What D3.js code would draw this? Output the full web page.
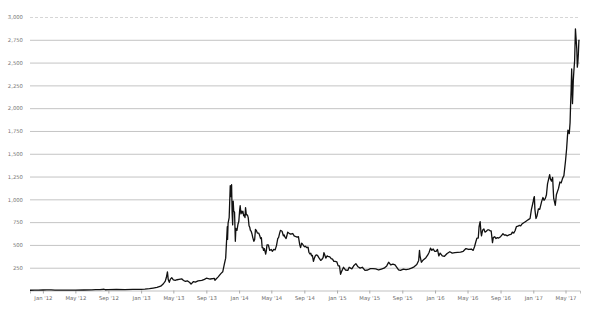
<!DOCTYPE html>
<html>
<head>
<meta charset="utf-8">
<script src="https://cdn.jsdelivr.net/npm/d3@7"></script>
<style>
  body { margin: 0; background: #fff; }
  svg { display: block; }
  .tick text { font-family: "DejaVu Sans", sans-serif; font-size: 5.3px; }
</style>
</head>
<body>
<div id="chart"></div>
<script>
// price readings, [date, USD] per period
var prices2012 = [
  ["2011-11-14", 2.9], ["2011-12-01", 3.1], ["2011-12-15", 3.2], ["2012-01-01", 5.3],
  ["2012-01-15", 6.8], ["2012-02-01", 6.1], ["2012-02-15", 4.4], ["2012-03-01", 4.9],
  ["2012-04-01", 4.9], ["2012-05-01", 5.0], ["2012-06-01", 5.3], ["2012-07-01", 6.7],
  ["2012-07-15", 8.8], ["2012-08-01", 9.4], ["2012-08-16", 13.5], ["2012-08-20", 8.0],
  ["2012-09-01", 10.1], ["2012-10-01", 12.4], ["2012-11-01", 10.6], ["2012-12-01", 12.6]
];
var prices2013 = [
  ["2013-01-01", 13.3], ["2013-01-15", 14.2], ["2013-02-01", 20.4], ["2013-02-15", 27],
  ["2013-03-01", 34.5], ["2013-03-15", 47], ["2013-03-25", 74], ["2013-04-01", 104],
  ["2013-04-05", 142], ["2013-04-09", 205], ["2013-04-12", 120], ["2013-04-16", 90],
  ["2013-04-20", 125], ["2013-04-25", 140], ["2013-05-01", 116], ["2013-05-08", 112],
  ["2013-05-15", 118], ["2013-05-22", 122], ["2013-06-01", 128], ["2013-06-08", 110],
  ["2013-06-15", 100], ["2013-06-22", 106], ["2013-07-01", 88], ["2013-07-06", 70],
  ["2013-07-15", 98], ["2013-07-22", 92], ["2013-08-01", 105], ["2013-08-15", 110],
  ["2013-08-25", 122], ["2013-09-01", 135], ["2013-09-15", 126], ["2013-10-01", 132],
  ["2013-10-03", 112], ["2013-10-15", 150], ["2013-10-25", 185], ["2013-11-01", 205],
  ["2013-11-07", 290], ["2013-11-12", 355], ["2013-11-18", 700], ["2013-11-19", 560],
  ["2013-11-21", 740], ["2013-11-25", 800], ["2013-11-29", 1150], ["2013-12-02", 1030],
  ["2013-12-04", 1160], ["2013-12-06", 850], ["2013-12-08", 720], ["2013-12-10", 980],
  ["2013-12-12", 870], ["2013-12-15", 860], ["2013-12-18", 540], ["2013-12-20", 680],
  ["2013-12-24", 660], ["2013-12-28", 730], ["2013-12-31", 760]
];
var prices2014 = [
  ["2014-01-03", 880], ["2014-01-05", 930], ["2014-01-08", 840], ["2014-01-10", 870],
  ["2014-01-13", 850], ["2014-01-15", 870], ["2014-01-18", 820], ["2014-01-20", 830],
  ["2014-01-23", 800], ["2014-01-25", 910], ["2014-01-28", 830], ["2014-02-01", 830],
  ["2014-02-04", 800], ["2014-02-07", 710], ["2014-02-10", 690], ["2014-02-12", 660],
  ["2014-02-15", 650], ["2014-02-18", 620], ["2014-02-21", 580], ["2014-02-25", 540],
  ["2014-02-28", 560], ["2014-03-03", 670], ["2014-03-06", 660], ["2014-03-10", 630],
  ["2014-03-15", 630], ["2014-03-19", 600], ["2014-03-22", 570], ["2014-03-25", 580],
  ["2014-03-28", 470], ["2014-03-31", 470], ["2014-04-02", 440], ["2014-04-05", 460],
  ["2014-04-10", 400], ["2014-04-12", 430], ["2014-04-15", 500], ["2014-04-20", 500],
  ["2014-04-25", 440], ["2014-05-01", 450], ["2014-05-05", 430], ["2014-05-10", 450],
  ["2014-05-15", 445], ["2014-05-20", 490], ["2014-05-25", 570], ["2014-05-28", 580],
  ["2014-06-01", 630], ["2014-06-04", 660], ["2014-06-07", 655], ["2014-06-10", 650],
  ["2014-06-15", 600], ["2014-06-18", 610], ["2014-06-20", 590], ["2014-06-25", 570],
  ["2014-06-28", 600], ["2014-07-01", 640], ["2014-07-05", 630], ["2014-07-10", 620],
  ["2014-07-15", 620], ["2014-07-20", 625], ["2014-07-25", 600], ["2014-08-01", 590],
  ["2014-08-05", 585], ["2014-08-10", 590], ["2014-08-15", 500], ["2014-08-18", 470],
  ["2014-08-22", 520], ["2014-08-25", 510], ["2014-09-01", 480], ["2014-09-05", 485],
  ["2014-09-10", 470], ["2014-09-15", 475], ["2014-09-18", 420], ["2014-09-22", 400],
  ["2014-09-25", 410], ["2014-09-28", 380], ["2014-10-01", 385], ["2014-10-05", 320],
  ["2014-10-08", 350], ["2014-10-12", 380], ["2014-10-15", 390], ["2014-10-20", 385],
  ["2014-10-25", 360], ["2014-11-01", 330], ["2014-11-05", 340], ["2014-11-10", 360],
  ["2014-11-13", 415], ["2014-11-15", 400], ["2014-11-20", 355], ["2014-11-25", 380],
  ["2014-11-28", 375], ["2014-12-05", 370], ["2014-12-10", 350], ["2014-12-15", 345],
  ["2014-12-20", 320], ["2014-12-25", 320], ["2014-12-31", 315]
];
var prices2015 = [
  ["2015-01-05", 270], ["2015-01-10", 270], ["2015-01-14", 178], ["2015-01-18", 210],
  ["2015-01-25", 255], ["2015-02-01", 225], ["2015-02-10", 220], ["2015-02-15", 255],
  ["2015-02-25", 237], ["2015-03-05", 275], ["2015-03-12", 295], ["2015-03-20", 260],
  ["2015-03-28", 245], ["2015-04-05", 255], ["2015-04-15", 220], ["2015-04-25", 225],
  ["2015-05-05", 240], ["2015-05-15", 240], ["2015-05-25", 237], ["2015-06-05", 225],
  ["2015-06-15", 235], ["2015-06-25", 245], ["2015-07-05", 270], ["2015-07-12", 310],
  ["2015-07-20", 280], ["2015-07-28", 290], ["2015-08-05", 280], ["2015-08-18", 225],
  ["2015-08-25", 220], ["2015-09-05", 235], ["2015-09-15", 230], ["2015-09-25", 235],
  ["2015-10-05", 245], ["2015-10-15", 260], ["2015-10-25", 285], ["2015-11-01", 330],
  ["2015-11-04", 440], ["2015-11-06", 380], ["2015-11-11", 310], ["2015-11-18", 335],
  ["2015-11-28", 360], ["2015-12-05", 390], ["2015-12-10", 420], ["2015-12-15", 465],
  ["2015-12-20", 440], ["2015-12-25", 455], ["2015-12-31", 430]
];
var prices2016 = [
  ["2016-01-05", 430], ["2016-01-10", 450], ["2016-01-15", 380], ["2016-01-20", 410],
  ["2016-01-28", 380], ["2016-02-05", 375], ["2016-02-15", 405], ["2016-02-25", 425],
  ["2016-03-05", 410], ["2016-03-15", 415], ["2016-03-25", 418], ["2016-04-05", 420],
  ["2016-04-15", 430], ["2016-04-25", 460], ["2016-05-05", 450], ["2016-05-15", 455],
  ["2016-05-22", 440], ["2016-05-27", 480], ["2016-06-01", 535], ["2016-06-05", 575],
  ["2016-06-10", 575], ["2016-06-13", 700], ["2016-06-17", 755], ["2016-06-20", 640],
  ["2016-06-22", 600], ["2016-06-26", 660], ["2016-07-01", 675], ["2016-07-05", 640],
  ["2016-07-10", 650], ["2016-07-15", 665], ["2016-07-20", 665], ["2016-07-24", 655],
  ["2016-07-28", 655], ["2016-08-02", 525], ["2016-08-05", 580], ["2016-08-10", 590],
  ["2016-08-15", 570], ["2016-08-20", 580], ["2016-08-25", 575], ["2016-09-01", 590],
  ["2016-09-05", 605], ["2016-09-10", 622], ["2016-09-15", 608], ["2016-09-20", 610],
  ["2016-09-25", 600], ["2016-10-05", 612], ["2016-10-10", 616], ["2016-10-15", 640],
  ["2016-10-20", 630], ["2016-10-25", 655], ["2016-10-30", 700], ["2016-11-05", 705],
  ["2016-11-10", 715], ["2016-11-15", 710], ["2016-11-20", 730], ["2016-11-25", 740],
  ["2016-12-01", 752], ["2016-12-05", 760], ["2016-12-10", 770], ["2016-12-15", 780],
  ["2016-12-20", 790], ["2016-12-25", 890], ["2016-12-31", 965]
];
var prices2017 = [
  ["2017-01-03", 1015], ["2017-01-05", 1030], ["2017-01-07", 890], ["2017-01-11", 790],
  ["2017-01-15", 820], ["2017-01-20", 895], ["2017-01-25", 890], ["2017-02-01", 975],
  ["2017-02-06", 1020], ["2017-02-10", 990], ["2017-02-15", 1010], ["2017-02-19", 1050],
  ["2017-02-23", 1170], ["2017-03-03", 1270], ["2017-03-06", 1220], ["2017-03-10", 1200],
  ["2017-03-14", 1240], ["2017-03-18", 1010], ["2017-03-24", 935], ["2017-03-28", 1050],
  ["2017-04-05", 1120], ["2017-04-10", 1190], ["2017-04-15", 1180], ["2017-04-20", 1230],
  ["2017-04-25", 1260], ["2017-05-01", 1420], ["2017-05-05", 1550], ["2017-05-08", 1680],
  ["2017-05-10", 1760], ["2017-05-15", 1720], ["2017-05-18", 1840], ["2017-05-20", 2040],
  ["2017-05-22", 2200], ["2017-05-24", 2430], ["2017-05-25", 2310], ["2017-05-27", 2050],
  ["2017-05-30", 2300], ["2017-06-01", 2400], ["2017-06-04", 2520], ["2017-06-07", 2870],
  ["2017-06-09", 2780], ["2017-06-12", 2650], ["2017-06-14", 2450], ["2017-06-16", 2500],
  ["2017-06-18", 2600], ["2017-06-20", 2750]
];

var yTicks = [250, 500, 750, 1000, 1250, 1500, 1750, 2000, 2250, 2500, 2750, 3000];
var xTickDates = ["2012-01-01", "2012-05-01", "2012-09-01", "2013-01-01", "2013-05-01", "2013-09-01",
  "2014-01-01", "2014-05-01", "2014-09-01", "2015-01-01", "2015-05-01", "2015-09-01",
  "2016-01-01", "2016-05-01", "2016-09-01", "2017-01-01", "2017-05-01"];
var xTickLabels = ["Jan '12", "May '12", "Sep '12", "Jan '13", "May '13", "Sep '13",
  "Jan '14", "May '14", "Sep '14", "Jan '15", "May '15", "Sep '15",
  "Jan '16", "May '16", "Sep '16", "Jan '17", "May '17"];

var svgWidth = 600;
var svgHeight = 323;
var parse = d3.timeParse("%Y-%m-%d");

var data = prices2012.concat(prices2013, prices2014, prices2015, prices2016, prices2017)
  .map(d => ({ date: parse(d[0]), value: d[1] }));
var tickDates = xTickDates.map(parse);

var svg = d3.select("#chart").append("svg")
  .attr("width", svgWidth)
  .attr("height", svgHeight);

var x = d3.scaleTime()
  .domain([parse("2011-11-14"), parse("2017-06-24")])
  .range([30, 580]);

var y = d3.scaleLinear()
  .domain([0, 3000])
  .range([290.5, 17]);

// gridlines + y labels
var yAxis = svg.append("g")
  .attr("transform", "translate(30,0)")
  .call(d3.axisLeft(y).tickValues(yTicks).tickFormat(d3.format(",")).tickSize(-550).tickPadding(7));
yAxis.select(".domain").remove();
yAxis.selectAll(".tick line")
  .attr("stroke-width", 1)
  .attr("stroke-dasharray", d => d === 3000 ? "3,2" : null)
  .attr("stroke", d => d === 3000 ? "#d6d6d6" : "#c4c4c4");
yAxis.selectAll(".tick text").attr("fill", "#777");

// x axis
var xAxis = svg.append("g")
  .attr("transform", "translate(0,290.5)")
  .call(d3.axisBottom(x).tickValues(tickDates).tickFormat((d, i) => xTickLabels[i]).tickSize(3).tickPadding(3));
xAxis.select(".domain").attr("stroke", "#999").attr("stroke-width", 0.6);
xAxis.selectAll(".tick line").attr("stroke", "#aaa");
xAxis.selectAll(".tick text").attr("fill", "#666");

// price line
var line = d3.line()
  .x(d => x(d.date))
  .y(d => y(d.value));

svg.append("path")
  .datum(data)
  .attr("fill", "none")
  .attr("stroke", "#111")
  .attr("stroke-width", 1.3)
  .attr("stroke-linejoin", "round")
  .attr("d", line);
</script>
</body>
</html>
